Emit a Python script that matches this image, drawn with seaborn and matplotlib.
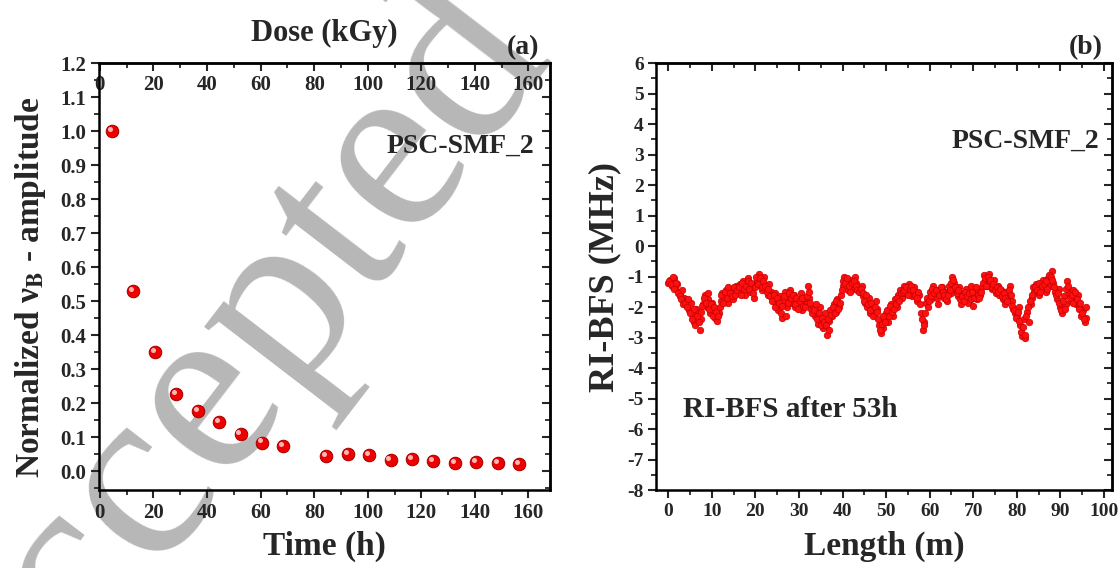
import matplotlib
matplotlib.use("Agg")
import matplotlib.pyplot as plt
import numpy as np
import pandas as pd
import seaborn as sns
from matplotlib.ticker import MultipleLocator, FormatStrFormatter
from matplotlib.transforms import offset_copy

# ---------------- data ----------------
time_h = [4.5, 12.5, 20.5, 28.5, 36.5, 44.5, 52.5, 60.5, 68.5, 84.5, 92.5,
          100.5, 108.5, 116.5, 124.5, 132.5, 140.5, 148.5, 156.5]
norm_amp = [1.0, 0.53, 0.35, 0.228, 0.178, 0.144, 0.109, 0.085, 0.074, 0.046,
            0.051, 0.048, 0.034, 0.036, 0.031, 0.024, 0.029, 0.024, 0.021]

# RI-BFS samples at 0.0, 0.4, 0.8, ... m
ri_bfs_a = [
    -1.2, -1.1, -1.3, -1.05, -1.35, -1.25, -1.5, -1.6, -1.45, -1.7,
    -1.8, -1.95, -2.1, -1.85, -2.3, -2.5, -2.05, -2.2, -2.75, -2.4,
    -1.9, -1.6, -2.0, -1.75, -2.2, -1.85, -2.1, -2.35, -2.45, -2.2,
    -1.8, -1.55, -1.7, -1.45, -1.85, -1.6, -1.4, -1.75, -1.5, -1.3,
    -1.55, -1.25, -1.45, -1.15, -1.6, -1.35, -1.05, -1.5, -1.25, -1.7,
    -1.3, -1.1, -0.9, -1.2, -1.45, -1.0, -1.35, -1.6, -1.25, -1.5,
    -1.75, -1.55, -1.9, -2.1, -1.65, -2.35, -1.8, -1.5, -2.0, -1.7,
    -1.45, -1.85, -1.6, -2.0, -1.75, -1.95, -1.55, -2.1, -1.8, -1.9,
    -1.3, -1.7, -2.05, -1.95, -2.3, -2.15, -2.55, -2.0, -2.4, -2.7,
    -2.2, -2.9, -2.45, -2.1, -2.3, -1.9, -2.15, -1.75, -2.0, -1.6,
    -1.3, -1.0, -1.15, -1.45, -1.25, -1.1, -1.4, -1.0, -1.2, -1.35,
    -1.5, -1.3, -1.65, -1.85, -2.0, -1.7, -2.2, -1.95, -2.1, -1.8,
    -2.05, -2.6, -2.85, -2.7, -2.4, -2.2, -2.5, -2.05, -1.9, -2.3,
    -1.75, -2.0, -1.6, -1.45, -1.7, -1.3, -1.55, -1.4, -1.25, -1.5,
    -1.65, -1.35, -1.55, -1.8, -1.6, -2.2, -2.75, -2.5, -1.85, -2.0,
    -1.5, -1.75, -1.3, -1.6, -1.45, -1.9, -1.55, -1.35, -1.7, -1.5,
    -1.8, -1.3, -1.55, -1.0, -1.2, -1.45, -1.65, -1.35, -1.9, -1.55,
    -1.7, -1.4, -1.85, -1.6, -1.3, -1.95, -1.5, -1.75, -1.45, -1.6,
    -1.35, -0.95, -1.15, -1.3, -0.9, -1.2, -1.4, -1.1, -1.55, -1.3,
    -1.6, -1.45, -1.75, -1.9, -1.5, -1.65, -1.3, -1.8, -2.05, -2.2,
    -2.3, -2.0, -2.6, -2.95, -2.4, -3.0, -2.15, -2.5, -1.9, -1.7,
    -1.5, -1.25, -1.4, -1.6, -1.2, -1.1, -1.35, -1.5, -1.05, -1.3,
    -0.8, -1.2, -1.5, -1.75, -1.4, -2.0, -2.2, -1.65, -1.9, -1.15,
    -1.55, -1.8, -1.45, -1.7, -1.9, -1.6, -2.0, -2.3, -2.1, -2.5,
    -2.35,
]
# RI-BFS samples at 0.2, 0.6, 1.0, ... m
ri_bfs_b = [
    -1.15, -1.25, -1.0, -1.4, -1.2, -1.55, -1.65, -1.75, -1.9, -1.85,
    -2.0, -1.75, -2.2, -2.4, -2.05, -2.6, -2.3, -2.5, -2.15, -1.95,
    -1.7, -1.85, -1.55, -2.05, -1.9, -2.3, -2.0, -2.15, -2.3, -2.0,
    -1.6, -1.85, -1.5, -1.7, -1.35, -1.55, -1.65, -1.35, -1.6, -1.45,
    -1.35, -1.6, -1.2, -1.4, -1.3, -1.15, -1.4, -1.2, -1.55, -1.35,
    -1.0, -1.25, -1.05, -1.35, -1.15, -1.3, -1.5, -1.4, -1.65, -1.8,
    -1.6, -2.0, -1.7, -1.85, -2.2, -1.95, -1.65, -2.3, -1.85, -1.55,
    -1.7, -1.6, -1.9, -1.7, -2.05, -1.8, -1.7, -1.95, -2.0, -1.65,
    -1.5, -1.85, -2.2, -2.1, -1.9, -2.4, -2.2, -2.6, -2.35, -2.5,
    -2.6, -2.4, -2.75, -2.25, -2.0, -2.2, -1.8, -2.05, -1.85, -1.45,
    -1.15, -1.2, -1.05, -1.3, -1.5, -1.2, -1.15, -1.3, -1.45, -1.5,
    -1.4, -1.55, -1.8, -1.6, -1.9, -2.1, -1.85, -2.3, -2.0, -2.15,
    -2.4, -2.75, -2.55, -2.3, -2.5, -2.1, -2.3, -1.95, -2.15, -2.05,
    -1.9, -1.7, -1.8, -1.55, -1.5, -1.45, -1.35, -1.6, -1.4, -1.3,
    -1.45, -1.6, -1.7, -1.5, -1.9, -2.4, -2.6, -2.2, -1.7, -1.8,
    -1.65, -1.4, -1.55, -1.45, -1.7, -1.6, -1.35, -1.5, -1.6, -1.75,
    -1.6, -1.45, -1.2, -1.1, -1.35, -1.55, -1.45, -1.75, -1.65, -1.8,
    -1.5, -1.65, -1.55, -1.75, -1.5, -1.7, -1.35, -1.6, -1.7, -1.5,
    -1.2, -1.05, -1.3, -1.0, -1.1, -1.35, -1.25, -1.45, -1.35, -1.5,
    -1.4, -1.65, -1.55, -1.7, -1.8, -1.45, -1.6, -1.95, -2.1, -2.35,
    -2.15, -2.45, -2.8, -2.65, -2.9, -2.3, -2.0, -1.8, -1.6, -1.35,
    -1.35, -1.45, -1.2, -1.5, -1.3, -1.25, -1.15, -1.4, -0.95, -1.0,
    -1.1, -1.35, -1.6, -1.55, -1.85, -2.1, -1.8, -2.05, -1.4, -1.3,
    -1.7, -1.6, -1.85, -1.5, -1.75, -2.05, -1.85, -2.2, -2.4, -2.0,
]
length_a = [round(i * 0.4, 1) for i in range(len(ri_bfs_a))]
length_b = [round(0.2 + i * 0.4, 1) for i in range(len(ri_bfs_b))]

df_a = pd.DataFrame({"Time (h)": time_h, "amp": norm_amp})
df_b = pd.DataFrame({"Length (m)": length_a + length_b,
                     "RI-BFS": ri_bfs_a + ri_bfs_b})

# ---------------- style ----------------
sns.set_style("ticks")
plt.rcParams["font.family"] = ["Liberation Serif", "DejaVu Serif"]
plt.rcParams["font.weight"] = "bold"
plt.rcParams["axes.labelweight"] = "bold"
plt.rcParams["mathtext.fontset"] = "stix"
plt.rcParams["axes.unicode_minus"] = False

fig = plt.figure(figsize=(11.2, 5.68), dpi=100)
fig.patch.set_facecolor("white")

# watermark
fig.text(0.195, 0.306, "Accepted", rotation=52.5, fontsize=180, color="#b7b7b7",
         family="Liberation Serif", weight="normal", ha="center", va="center",
         zorder=-1)

ax1 = fig.add_axes([0.088, 0.137, 0.403, 0.752])
ax2 = fig.add_axes([0.586, 0.137, 0.407, 0.752])

RED = "#ee0000"


def style_axes(ax, xmaj, xmin, ymaj, ymin, tick_fs, top_labels=False, top_pad=-18):
    ax.set_facecolor("none")
    for sp in ax.spines.values():
        sp.set_linewidth(1.8)
        sp.set_color("black")
    ax.xaxis.set_major_locator(MultipleLocator(xmaj))
    ax.xaxis.set_minor_locator(MultipleLocator(xmin))
    ax.yaxis.set_major_locator(MultipleLocator(ymaj))
    ax.yaxis.set_minor_locator(MultipleLocator(ymin))
    ax.tick_params(axis="both", which="major", direction="out", length=6,
                   width=1.5, labelsize=tick_fs, top=False, right=False, pad=3)
    ax.tick_params(axis="both", which="minor", direction="out", length=3.5,
                   width=1.3, top=False, right=False)
    # top ticks (inward)
    sx = ax.secondary_xaxis("top")
    sx.xaxis.set_major_locator(MultipleLocator(xmaj))
    sx.xaxis.set_minor_locator(MultipleLocator(xmin))
    sx.tick_params(axis="x", which="major", direction="in", length=6, width=1.5,
                   labeltop=top_labels, labelsize=tick_fs, pad=top_pad)
    sx.tick_params(axis="x", which="minor", direction="in", length=3.5, width=1.3)
    sx.spines["top"].set_linewidth(1.8)
    # right ticks (inward)
    sy = ax.secondary_yaxis("right")
    sy.yaxis.set_major_locator(MultipleLocator(ymaj))
    sy.yaxis.set_minor_locator(MultipleLocator(ymin))
    sy.tick_params(axis="y", which="major", direction="in", length=6, width=1.5,
                   labelright=False)
    sy.tick_params(axis="y", which="minor", direction="in", length=3.5, width=1.3)
    sy.spines["right"].set_linewidth(1.8)
    return sx, sy


# ---------------- panel (a) ----------------
sns.scatterplot(data=df_a, x="Time (h)", y="amp", ax=ax1, color=RED, s=82,
                edgecolor="#a00000", linewidth=0.7, legend=False, zorder=3)
hl = offset_copy(ax1.transData, fig=fig, x=-1.5, y=1.5, units="points")
ax1.scatter(df_a["Time (h)"], df_a["amp"], s=13, color="#ffb4b4",
            linewidths=0, transform=hl, zorder=4)
ax1.set_xlim(-0.5, 168)
ax1.set_ylim(-0.055, 1.2)
sx1, sy1 = style_axes(ax1, 20, 10, 0.1, 0.05, 15, top_labels=True, top_pad=-23)
ax1.yaxis.set_major_formatter(FormatStrFormatter("%.1f"))
ax1.set_xlabel("Time (h)", fontsize=24, fontweight="bold", labelpad=6)
ax1.set_ylabel(r"Normalized ν$_{\mathbf{B}}$ - amplitude", fontsize=24,
               fontweight="bold")
ax1.yaxis.set_label_coords(-0.112, 0.475)
ax1.text(0.5, 1.035, "Dose (kGy)", transform=ax1.transAxes, ha="center",
         va="bottom", fontsize=22, fontweight="bold")
ax1.text(0.94, 1.037, "(a)", transform=ax1.transAxes, ha="center",
         va="center", fontsize=20, fontweight="bold")
ax1.text(0.965, 0.806, "PSC-SMF_2", transform=ax1.transAxes, ha="right",
         va="center", fontsize=20, fontweight="bold")

# ---------------- panel (b) ----------------
sns.scatterplot(data=df_b, x="Length (m)", y="RI-BFS", ax=ax2, color="#ff1010",
                s=22, edgecolor="#c80000", linewidth=0.5, legend=False, zorder=3)
ax2.set_xlim(-2.75, 101.9)
ax2.set_ylim(-8, 6)
style_axes(ax2, 10, 5, 1, 0.5, 14)
ax2.set_xlabel("Length (m)", fontsize=24, fontweight="bold", labelpad=8)
ax2.set_ylabel("RI-BFS (MHz)", fontsize=26, fontweight="bold", labelpad=4)
ax2.text(0.943, 1.037, "(b)", transform=ax2.transAxes, ha="center",
         va="center", fontsize=20, fontweight="bold")
ax2.text(0.971, 0.817, "PSC-SMF_2", transform=ax2.transAxes, ha="right",
         va="center", fontsize=20, fontweight="bold")
ax2.text(0.059, 0.19, "RI-BFS after 53h", transform=ax2.transAxes, ha="left",
         va="center", fontsize=21, fontweight="bold")

fig.savefig("out.png", dpi=100, facecolor="white")
